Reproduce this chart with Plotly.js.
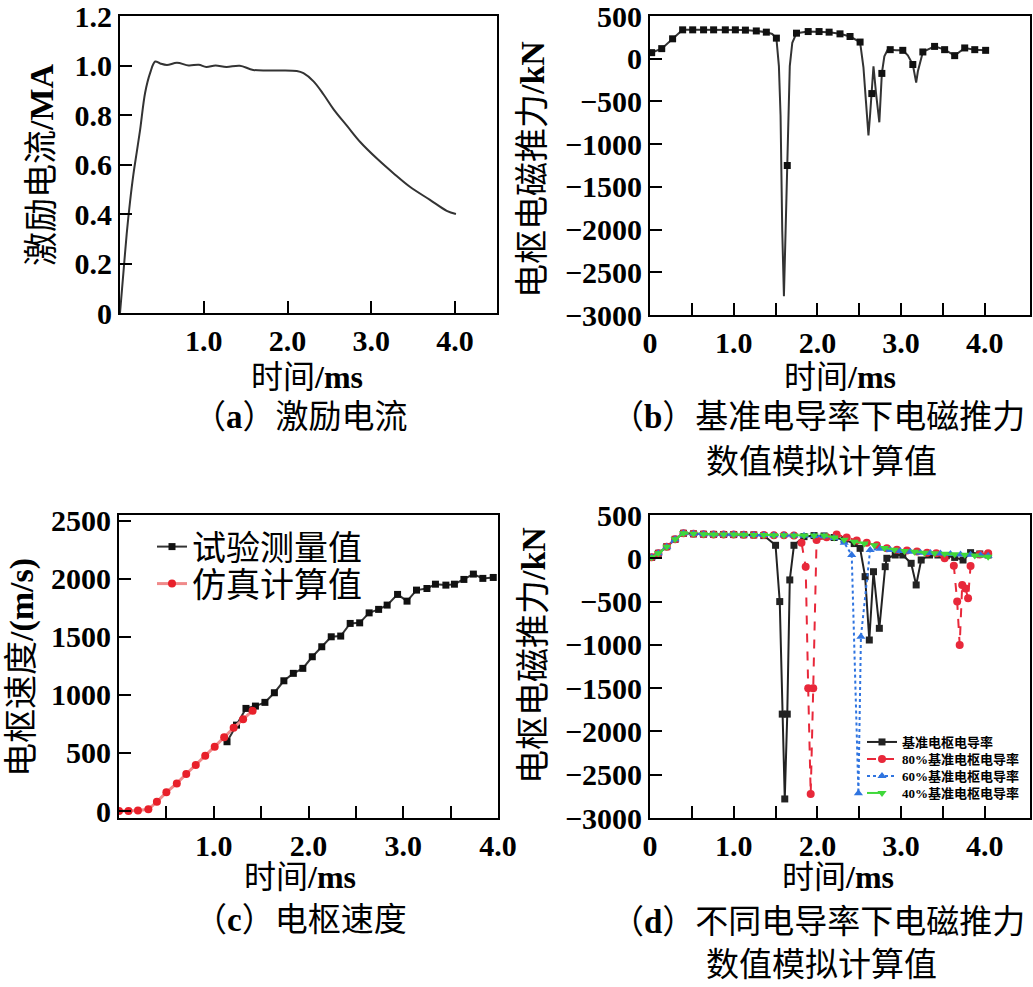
<!DOCTYPE html>
<html><head><meta charset="utf-8">
<script src="https://cdn.plot.ly/plotly-3.0.1.min.js"></script>
<style>html,body{margin:0;padding:0;background:#fff}#chart{width:1033px;height:987px}</style>
</head><body><div id="chart"></div>
<script>
// ---------- (a) excitation current ----------
const currentTime = [0,0.04,0.08,0.12,0.16,0.20,0.24,0.30,0.36,0.42,0.48,0.56,0.68,0.82,0.94,1.03,1.14,1.27,1.43,1.59,1.83,2.11,2.19,2.31,2.43,2.55,2.71,2.87,3.07,3.27,3.46,3.70,3.90,4.01];
const currentMA   = [0,0.16,0.32,0.45,0.56,0.65,0.74,0.89,0.97,1.016,1.008,1.002,1.011,1.000,1.003,0.994,1.0,0.994,0.999,0.982,0.980,0.978,0.969,0.936,0.883,0.823,0.756,0.690,0.623,0.563,0.510,0.457,0.413,0.400];

// ---------- (b) force at base conductivity ----------
const forceLineTime = [0,0.02,0.14,0.27,0.39,0.51,0.64,0.76,0.90,1.02,1.14,1.27,1.39,1.46,1.51,1.54,1.56,1.58,1.60,1.63,1.65,1.67,1.70,1.75,1.89,2.02,2.14,2.27,2.39,2.51,2.55,2.58,2.61,2.63,2.65,2.67,2.70,2.74,2.77,2.80,2.85,2.87,2.94,3.02,3.08,3.14,3.18,3.20,3.26,3.40,3.52,3.64,3.76,3.88,4.01];
const forceLineKN   = [55,71,118,233,338,338,338,338,338,338,335,325,311,290,241,-87,-667,-2015,-2780,-1633,-860,-87,187,299,318,318,311,291,260,195,-100,-500,-899,-650,-408,-88,-400,-744,-172,28,126,106,100,98,40,-68,-280,-150,79,144,106,36,126,106,98];
const forceMarkTime = [0.02,0.14,0.27,0.39,0.51,0.64,0.76,0.90,1.02,1.14,1.27,1.39,1.51,1.64,1.75,1.89,2.02,2.14,2.27,2.39,2.51,2.65,2.77,2.87,3.02,3.14,3.26,3.40,3.52,3.64,3.76,3.88,4.01];
const forceMarkKN   = [71,118,233,338,338,338,338,338,338,335,325,311,241,-1250,299,318,318,311,291,260,195,-408,-172,106,98,-68,79,144,106,36,126,106,98];

// ---------- (c) armature velocity ----------
const expTime = [1.14,1.24,1.34,1.44,1.54,1.64,1.74,1.84,1.94,2.04,2.14,2.24,2.34,2.44,2.54,2.64,2.74,2.83,2.94,3.04,3.14,3.25,3.34,3.45,3.54,3.64,3.74,3.84,3.95];
const expVel  = [597,740,884,904,936,1019,1122,1186,1229,1329,1415,1501,1507,1616,1621,1707,1737,1774,1866,1808,1903,1917,1954,1946,1954,1995,2041,2004,2012];
const simTime = [0,0.1,0.2,0.31,0.40,0.50,0.61,0.71,0.81,0.91,1.01,1.11,1.21,1.31,1.41];
const simVel  = [0,0,5,15,80,161,238,319,396,476,554,635,717,790,864];

// ---------- (d) force at different conductivities ----------
const baseT = [0.02,0.1,0.2,0.3,0.4,0.52,0.64,0.76,0.88,1.0,1.12,1.24,1.36,1.50,1.55,1.58,1.61,1.64,1.67,1.72,1.84,1.96,2.08,2.20,2.32,2.44,2.51,2.57,2.62,2.67,2.74,2.81,2.83,2.93,3.02,3.12,3.18,3.24,3.34,3.44,3.54,3.64,3.74,3.83,3.94,4.04];
const baseF = [11,58,134,219,289,282,278,276,275,274,272,270,262,150,-500,-1800,-2780,-1800,-250,150,250,262,258,240,215,170,115,-212,-944,-155,-809,-97,0,38,38,-58,-308,-20,38,38,30,10,-20,65,50,38];
const c80T = [0.02,0.1,0.2,0.3,0.4,0.52,0.64,0.76,0.88,1.0,1.12,1.24,1.36,1.48,1.60,1.72,1.81,1.86,1.89,1.92,1.95,1.99,2.11,2.23,2.35,2.47,2.59,2.71,2.83,2.95,3.07,3.19,3.31,3.42,3.52,3.63,3.67,3.70,3.73,3.77,3.80,3.83,3.94,4.04];
const c80F = [11,58,134,219,289,282,278,276,275,274,272,270,268,266,265,262,180,-97,-1500,-2722,-1500,211,242,275,240,205,180,150,115,100,90,78,65,58,0,-85,-500,-1002,-308,-350,-462,-89,45,58];
const c60T = [0.02,0.1,0.2,0.3,0.4,0.52,0.64,0.76,0.88,1.0,1.12,1.24,1.36,1.48,1.60,1.72,1.84,1.96,2.08,2.20,2.32,2.41,2.49,2.52,2.63,2.75,2.87,2.99,3.11,3.23,3.35,3.47,3.59,3.71,3.83,3.95,4.04];
const c60F = [11,58,134,219,289,282,278,276,275,274,272,270,268,266,265,262,260,258,255,235,180,38,-2714,-906,96,110,95,85,75,65,60,55,50,45,40,35,30];
const c40T = [0.02,0.1,0.2,0.3,0.4,0.52,0.64,0.76,0.88,1.0,1.12,1.24,1.36,1.48,1.60,1.72,1.84,1.96,2.08,2.20,2.32,2.44,2.56,2.68,2.80,2.92,3.04,3.16,3.28,3.40,3.52,3.64,3.76,3.88,4.04];
const c40F = [11,58,134,219,289,282,278,276,275,274,272,270,268,266,265,264,262,262,262,240,215,192,170,150,120,100,85,75,65,58,52,48,40,32,18];

// ---------- tick labels ----------
const aXTickVals = [1,2,3,4];
const aXTickText = ['1.0','2.0','3.0','4.0'];
const aYTickVals = [0,0.2,0.4,0.6,0.8,1.0,1.2];
const aYTickText = ['0','0.2','0.4','0.6','0.8','1.0','1.2'];
const tXTickVals = [0,0.5,1,1.5,2,2.5,3,3.5,4];
const tXTickText = ['0','','1.0','','2.0','','3.0','','4.0'];
const cXTickText = ['','','1.0','','2.0','','3.0','','4.0'];
const fYTickVals = [500,0,-500,-1000,-1500,-2000,-2500,-3000];
const fYTickText = ['500','0','−500','−1000','−1500','−2000','−2500','−3000'];
const vYTickVals = [0,500,1000,1500,2000,2500];
const vYTickText = ['0','500','1000','1500','2000','2500'];

const seriesNames = ['基准电枢电导率','80%基准电枢电导率','60%基准电枢电导率','40%基准电枢电导率'];
const velNames = ['试验测量值','仿真计算值'];

const W = 1033, H = 987;
const fx = p => p / W, fy = p => 1 - p / H;
const FONT = 'Liberation Serif, Noto Sans CJK SC, serif';

const axisBase = {showline:true, linecolor:'#000', linewidth:2, mirror:true,
  ticks:'inside', ticklen:12, tickwidth:2, tickcolor:'#000',
  showgrid:false, zeroline:false, fixedrange:true, ticklabeloverflow:'allow',
  tickfont:{family:FONT, size:30, color:'#000', weight:'bold'}, tickmode:'array'};

const traces = [
  {x:currentTime, y:currentMA, xaxis:'x', yaxis:'y', mode:'lines', line:{color:'#333', width:2, shape:'spline'}, showlegend:false},
  {x:forceLineTime, y:forceLineKN, xaxis:'x2', yaxis:'y2', mode:'lines', line:{color:'#333', width:2}, showlegend:false},
  {x:forceMarkTime, y:forceMarkKN, xaxis:'x2', yaxis:'y2', mode:'markers', marker:{symbol:'square', size:7, color:'#111'}, showlegend:false},
  {x:expTime, y:expVel, xaxis:'x3', yaxis:'y3', mode:'lines+markers', name:velNames[0], legend:'legend',
   line:{color:'#333', width:2}, marker:{symbol:'square', size:7, color:'#111'}},
  {x:simTime, y:simVel, xaxis:'x3', yaxis:'y3', mode:'lines+markers', name:velNames[1], legend:'legend3',
   line:{color:'#f08a8a', width:3}, marker:{symbol:'circle', size:8, color:'#e8202a'}},
  {x:baseT, y:baseF, xaxis:'x4', yaxis:'y4', mode:'lines+markers', name:seriesNames[0], legend:'legend2',
   line:{color:'#222', width:2}, marker:{symbol:'square', size:7, color:'#222'}},
  {x:c80T, y:c80F, xaxis:'x4', yaxis:'y4', mode:'lines+markers', name:seriesNames[1], legend:'legend4',
   line:{color:'#e8283a', width:2, dash:'dash'}, marker:{symbol:'circle', size:8, color:'#e8283a'}},
  {x:c60T, y:c60F, xaxis:'x4', yaxis:'y4', mode:'lines+markers', name:seriesNames[2], legend:'legend5',
   line:{color:'#2f74e0', width:2, dash:'dot'}, marker:{symbol:'triangle-up', size:8, color:'#2f74e0'}},
  {x:c40T, y:c40F, xaxis:'x4', yaxis:'y4', mode:'lines+markers', name:seriesNames[3], legend:'legend6',
   line:{color:'#3fd83a', width:2, dash:'longdash'}, marker:{symbol:'triangle-down', size:8, color:'#3fd83a'}}
];

function ann(text, x, y, size, angle) {
  return {text:text, x:fx(x), y:fy(y), xref:'paper', yref:'paper', showarrow:false,
    xanchor:'center', yanchor:'middle', textangle:angle||0,
    font:{family:FONT, size:size, color:'#000'}};
}
function smallLegend(top) {
  return {x:fx(862), y:fy(top), xanchor:'left', yanchor:'top', bgcolor:'rgba(0,0,0,0)',
    font:{family:FONT, size:13, color:'#000', weight:'bold'}};
}
function bigLegend(top) {
  return {x:fx(152), y:fy(top), xanchor:'left', yanchor:'top', bgcolor:'rgba(0,0,0,0)',
    font:{family:FONT, size:34, color:'#000'}};
}

const layout = {
  width:W, height:H, margin:{l:0,r:0,t:0,b:0},
  paper_bgcolor:'#fff', plot_bgcolor:'#fff',
  xaxis:{...axisBase, anchor:'y', domain:[fx(120),fx(497)], range:[0,4.5], tickvals:aXTickVals, ticktext:aXTickText},
  yaxis:{...axisBase, anchor:'x', domain:[fy(313),fy(16)], range:[0,1.2], tickvals:aYTickVals, ticktext:aYTickText},
  xaxis2:{...axisBase, anchor:'y2', domain:[fx(650),fx(1030)], range:[0,4.54], tickvals:tXTickVals, ticktext:tXTickText},
  yaxis2:{...axisBase, anchor:'x2', domain:[fy(315),fy(16)], range:[-3000,500], tickvals:fYTickVals, ticktext:fYTickText},
  xaxis3:{...axisBase, anchor:'y3', domain:[fx(119),fx(498)], range:[0,4], tickvals:tXTickVals, ticktext:cXTickText},
  yaxis3:{...axisBase, anchor:'x3', domain:[fy(818),fy(515)], range:[-60,2550], tickvals:vYTickVals, ticktext:vYTickText},
  xaxis4:{...axisBase, anchor:'y4', domain:[fx(650),fx(1030)], range:[0,4.54], tickvals:tXTickVals, ticktext:tXTickText},
  yaxis4:{...axisBase, anchor:'x4', domain:[fy(818),fy(515)], range:[-3000,500], tickvals:fYTickVals, ticktext:fYTickText},
  legend:bigLegend(518), legend3:bigLegend(555),
  legend2:smallLegend(727), legend4:smallLegend(744), legend5:smallLegend(761), legend6:smallLegend(778),
  annotations:[
    ann('时间<b>/ms</b>', 307, 377, 32), ann('时间<b>/ms</b>', 840, 377, 32),
    ann('时间<b>/ms</b>', 300, 877, 32), ann('时间<b>/ms</b>', 838, 877, 32),
    ann('激励电流<b>/MA</b>', 42, 165, 34, -90), ann('电枢电磁推力<b>/kN</b>', 533, 170, 34, -90),
    ann('电枢速度<b>/(m/s)</b>', 22, 668, 34, -90), ann('电枢电磁推力<b>/kN</b>', 533, 656, 34, -90),
    ann('（<b>a</b>）激励电流', 300, 417, 33), ann('（<b>b</b>）基准电导率下电磁推力', 818, 417, 33), ann('数值模拟计算值', 821, 462, 33),
    ann('（<b>c</b>）电枢速度', 300, 920, 33), ann('（<b>d</b>）不同电导率下电磁推力', 818, 922, 33), ann('数值模拟计算值', 821, 965, 33)
  ]
};

Plotly.newPlot('chart', traces, layout, {staticPlot:true, displayModeBar:false});
</script></body></html>
